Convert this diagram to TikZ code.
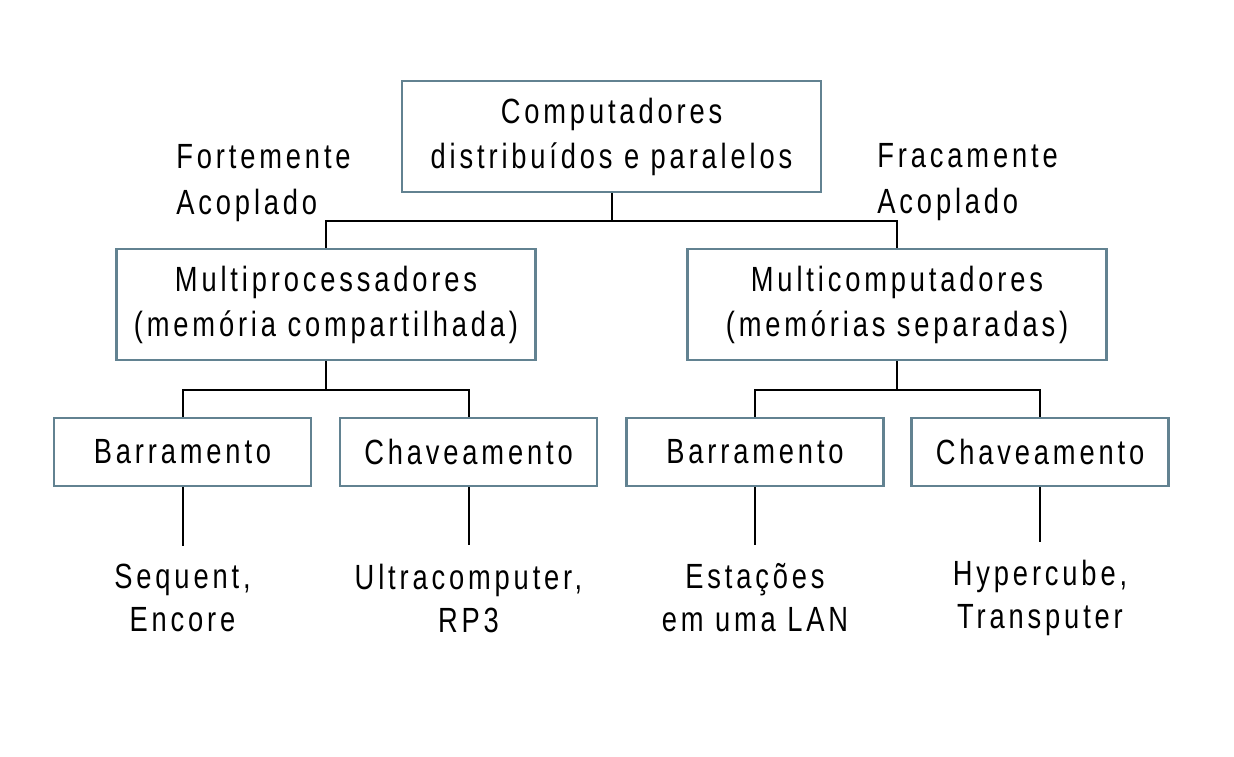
\documentclass[tikz,border=0pt]{standalone}
\usepackage{fontspec}
\setmainfont{Liberation Sans}[FakeStretch=0.78, LetterSpace=11]
\usepackage{tikz}
\usetikzlibrary{
    positioning
}
\definecolor{borda}{RGB}{98,130,145}
\tikzset{
    caixa/.style={
        draw=borda,
        line width=1.4pt,
        fill=white,
        align=center,
        minimum width=209.5pt,
        minimum height=55.5pt,
        inner sep=2pt,
        font=\fontsize{17.5}{22.5}\selectfont
    },
    caixap/.style={
        caixa,
        minimum width=128.5pt,
        minimum height=34pt
    },
    folha/.style={
        align=center,
        inner xsep=0pt,
        inner ysep=9pt,
        font=\fontsize{17.5}{21.5}\selectfont
    },
    rotulo/.style={
        align=left,
        inner sep=0pt,
        anchor=west,
        font=\fontsize{17.5}{23}\selectfont
    },
    liga/.style={
        line width=1pt
    }
}
\begin{document}
\begin{tikzpicture}[
    x=0.5pt,
    y=-0.5pt
]
    \useasboundingbox (0,0) rectangle (1234,756);

    % Caixas
    \node[caixa]  (cdp) at (611.5,136.5) {Computadores\\distribuídos e paralelos};
    \node[caixa]  (mp)  at (326,304.5)   {Multiprocessadores\\(memória compartilhada)};
    \node[caixa]  (mc)  at (897,304.5)   {Multicomputadores\\(memórias separadas)};
    \node[caixap] (bmp) at (182.5,452)   {Barramento};
    \node[caixap] (cmp) at (468.5,452)   {Chaveamento};
    \node[caixap] (bmc) at (755,452)     {Barramento};
    \node[caixap] (cmc) at (1040,452)    {Chaveamento};

    % Exemplos
    \node[folha] (sq) at (182.5,598) {Sequent,\\Encore};
    \node[folha] (ul) at (468.5,598) {Ultracomputer,\\RP3};
    \node[folha] (es) at (755,598)   {Estações\\em uma LAN};
    \node[folha] (hc) at (1040,598)  {Hypercube,\\Transputer};

    % Rotulos
    \node[rotulo] (fo) at (176,183) {Fortemente\\Acoplado};
    \node[rotulo] (fr) at (877,182) {Fracamente\\Acoplado};

    % Ligacoes
    \draw[liga] (cdp.south) -- ++(0,-14pt) -| (mp.north);
    \draw[liga] (cdp.south) -- ++(0,-14pt) -| (mc.north);
    \draw[liga] (mp.south) -- ++(0,-14.5pt) -| (bmp.north);
    \draw[liga] (mp.south) -- ++(0,-14.5pt) -| (cmp.north);
    \draw[liga] (mc.south) -- ++(0,-14.5pt) -| (bmc.north);
    \draw[liga] (mc.south) -- ++(0,-14.5pt) -| (cmc.north);
    \draw[liga] (bmp.south) -- (sq.north);
    \draw[liga] (cmp.south) -- (ul.north);
    \draw[liga] (bmc.south) -- (es.north);
    \draw[liga] (cmc.south) -- (hc.north);

\end{tikzpicture}
\end{document}
